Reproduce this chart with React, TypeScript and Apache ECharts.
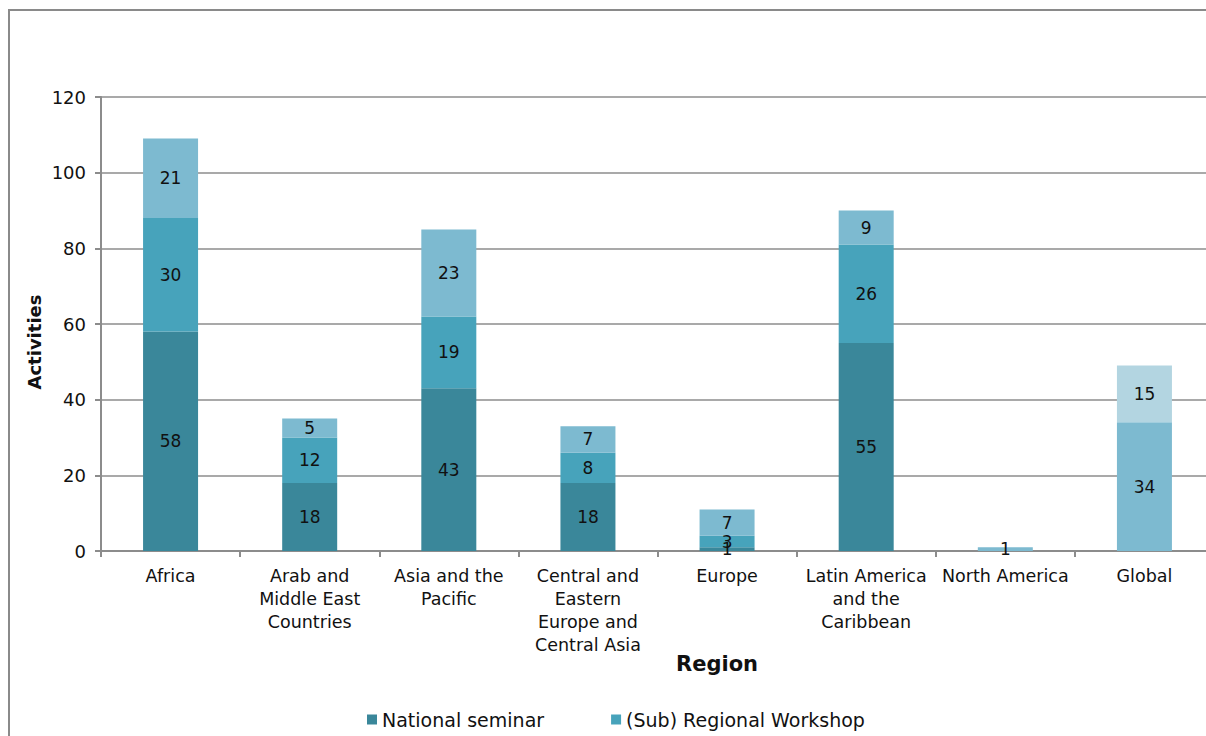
import React, { useEffect, useRef } from "react";
import * as echarts from "echarts";

const categories = [
  "Africa",
  "Arab and Middle East Countries",
  "Asia and the Pacific",
  "Central and Eastern Europe and Central Asia",
  "Europe",
  "Latin America and the Caribbean",
  "North America",
  "Global",
];
const categoryLabels = [
  "Africa",
  "Arab and\nMiddle East\nCountries",
  "Asia and the\nPacific",
  "Central and\nEastern\nEurope and\nCentral Asia",
  "Europe",
  "Latin America\nand the\nCaribbean",
  "North America",
  "Global",
];
const yTicks = [0, 20, 40, 60, 80, 100, 120];

const nationalSeminar = [58, 18, 43, 18, 1, 55, null, null];
const regionalWorkshop = [30, 12, 19, 8, 3, 26, null, null];
const internationalEvent = [21, 5, 23, 7, 7, 9, 1, 34];
const globalOther = [null, null, null, null, null, null, null, 15];

const FONT = "DejaVu Sans, Verdana, sans-serif";

export default function App() {
  const ref = useRef<HTMLDivElement>(null);
  useEffect(() => {
    if (!ref.current) return;
    const chart = echarts.init(ref.current, undefined, { renderer: "svg" });
    const label = {
      show: true,
      position: "inside",
      color: "#111",
      fontSize: 17,
      fontFamily: FONT,
    };
    const mk = (name: string, data: (number | null)[], color: string) => ({
      name,
      type: "bar",
      stack: "total",
      data,
      barWidth: 55,
      itemStyle: { color },
      label,
      emphasis: { disabled: true },
    });
    chart.setOption({
      animation: false,
      textStyle: { fontFamily: FONT },
      grid: { left: 101, right: 0, top: 97, bottom: 185 },
      legend: {
        data: ["National seminar", "(Sub) Regional Workshop"],
        left: 362,
        top: 705,
        itemWidth: 10,
        itemHeight: 10,
        itemGap: 67,
        icon: "rect",
        textStyle: { fontSize: 19, color: "#111", fontFamily: FONT },
      },
      xAxis: {
        type: "category",
        data: categories,
        axisLine: { lineStyle: { color: "#8c8c8c", width: 2 } },
        axisTick: { show: true, length: 6, lineStyle: { color: "#8c8c8c", width: 2 } },
        axisLabel: {
          interval: 0,
          color: "#111",
          fontSize: 17.5,
          lineHeight: 23,
          margin: 13,
          fontFamily: FONT,
          formatter: (v: string) => categoryLabels[categories.indexOf(v)] ?? v,
        },
      },
      yAxis: {
        type: "value",
        min: yTicks[0],
        max: yTicks[yTicks.length - 1],
        interval: 20,
        axisLine: { show: true, lineStyle: { color: "#8c8c8c", width: 2 } },
        axisTick: { show: true, length: 6, lineStyle: { color: "#8c8c8c", width: 2 } },
        splitLine: { lineStyle: { color: "#8c8c8c", width: 1.5 } },
        axisLabel: { color: "#111", fontSize: 18, margin: 15, fontFamily: FONT },
      },
      graphic: [
        {
          type: "rect",
          shape: { x: 9, y: 10, width: 1400, height: 900 },
          style: { fill: "none", stroke: "#8a8a8a", lineWidth: 2 },
          silent: true,
        },
        {
          type: "text",
          x: 717,
          y: 664,
          style: {
            text: "Region",
            fontSize: 21,
            fontWeight: "bold",
            fontFamily: FONT,
            fill: "#111",
            align: "center",
            verticalAlign: "middle",
          },
        },
        {
          type: "text",
          x: 34,
          y: 342,
          rotation: Math.PI / 2,
          style: {
            text: "Activities",
            fontSize: 18,
            fontWeight: "bold",
            fontFamily: FONT,
            fill: "#111",
            align: "center",
            verticalAlign: "middle",
          },
        },
      ],
      series: [
        mk("National seminar", nationalSeminar, "#3a879a"),
        mk("(Sub) Regional Workshop", regionalWorkshop, "#47a3bb"),
        mk("International event", internationalEvent, "#7dbad0"),
        mk("Global initiative", globalOther, "#b3d5e1"),
      ],
    });
    return () => chart.dispose();
  }, []);
  return (
    <div
      ref={ref}
      style={{ position: "fixed", left: 0, top: 0, width: 1214, height: 736, background: "#fff" }}
    />
  );
}
